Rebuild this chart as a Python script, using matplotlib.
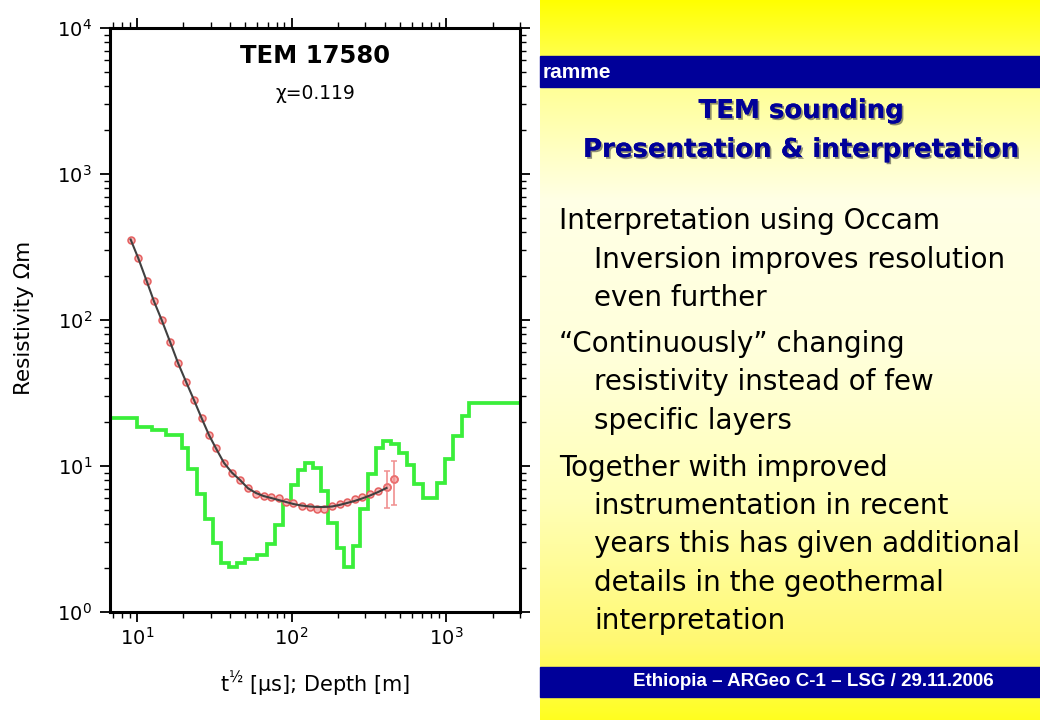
import numpy as np
import matplotlib
matplotlib.use("Agg")
import matplotlib.pyplot as plt
from matplotlib import patheffects as pe
from matplotlib.patches import Rectangle
from matplotlib.ticker import LogLocator, NullFormatter

plt.rcParams["font.family"] = ["DejaVu Sans"]
plt.rcParams["mathtext.default"] = "regular"

# ---------------- data ----------------
sqrt_time = [9.10, 10.20, 11.55, 12.88, 14.45, 16.36, 18.43, 20.76, 23.38, 26.23,
             29.24, 32.46, 36.57, 41.19, 46.42, 52.28, 58.9, 65.9, 73.7, 82.4,
             92.1, 103.0, 116.1, 130.8, 146.2, 162.3, 182.9, 204.5, 228.7, 255.7,
             286.0, 322.2, 362.9, 412.0, 460.7]
rho_observed = [355.9, 264.6, 185.0, 134.3, 100.0, 71.0, 50.8, 37.8, 28.3, 21.2,
                16.3, 13.2, 10.5, 9.00, 8.02, 7.04, 6.48, 6.23, 6.13, 5.99,
                5.69, 5.54, 5.36, 5.20, 5.04, 5.04, 5.32, 5.49, 5.71, 5.90,
                6.13, 6.38, 6.74, 7.21, 8.11]
rho_response = [355.9, 264.6, 185.0, 134.3, 100.0, 71.0, 50.8, 37.8, 28.3, 21.2,
                16.3, 13.2, 10.5, 9.00, 8.02, 7.04, 6.53, 6.23, 6.04, 5.85,
                5.67, 5.49, 5.36, 5.28, 5.24, 5.24, 5.28, 5.41, 5.58, 5.76,
                5.99, 6.28, 6.63, 7.07]
errbar_time = [412.0, 460.7]
errbar_rho = [7.21, 8.11]
errbar_lower = [5.13, 5.41]
errbar_upper = [9.26, 10.82]

layer_boundaries = [10.0, 12.51, 15.41, 19.56, 21.39, 24.45, 27.55, 31.04, 34.97, 39.40,
                    44.39, 50.0, 59.8, 69.4, 78.2, 88.1, 99.3, 110.2, 122.3, 137.8,
                    155.2, 172.3, 197.0, 218.7, 250.1, 277.5, 312.6, 352.3, 391.0, 440.6,
                    496.4, 559.2, 620.8, 709.9, 874.6, 985.1, 1110, 1269, 1409]
layer_rho = [21.3, 18.5, 17.6, 16.3, 13.3, 9.54, 6.43, 4.34, 2.97, 2.17,
             2.03, 2.17, 2.31, 2.46, 2.92, 3.94, 5.58, 7.41, 9.39, 10.5,
             9.69, 6.74, 4.07, 2.74, 2.03, 2.83, 5.08, 8.81, 13.3, 14.8,
             14.1, 12.3, 10.2, 7.53, 6.04, 7.65, 11.2, 16.1, 22.0, 27.0]

chart_title = "TEM 17580"
chi_text = "χ=0.119"
x_label = "t$^{½}$ [µs]; Depth [m]"
y_label = "Resistivity Ωm"

bar_text = "ramme"
slide_title = ["TEM sounding", "Presentation & interpretation"]
bullets = [
    ["Interpretation using Occam", "Inversion improves resolution", "even further"],
    ["“Continuously” changing", "resistivity instead of few", "specific layers"],
    ["Together with improved", "instrumentation in recent",
     "years this has given additional", "details in the geothermal", "interpretation"],
]
footer_text = "Ethiopia – ARGeo C-1 – LSG / 29.11.2006"

# ---------------- figure ----------------
W, H = 1040, 720
fig = plt.figure(figsize=(W / 100, H / 100), dpi=100, facecolor="white")

def fx(px):
    return px / W

def fy(py):
    return 1 - py / H

# slide background gradient (right part)
bg = fig.add_axes([fx(540), 0, fx(500), 1], zorder=0)
stops_y = [0, 56, 90, 200, 350, 500, 640, 720]
stops_b = [0.0, 0.30, 0.60, 0.90, 0.86, 0.72, 0.45, 0.12]
stops_g = [1.0, 1.0, 1.0, 1.0, 1.0, 1.0, 0.975, 1.0]
yy = np.arange(H)
grad = np.zeros((H, 1, 3))
grad[:, 0, 0] = 1.0
grad[:, 0, 1] = np.interp(yy, stops_y, stops_g)
grad[:, 0, 2] = np.interp(yy, stops_y, stops_b)
bg.imshow(grad, aspect="auto", extent=[0, 1, 1, 0], interpolation="bilinear")
bg.set_xlim(0, 1)
bg.set_ylim(1, 0)
bg.axis("off")

navy = "#000099"
fig.patches.append(Rectangle((fx(540), fy(87)), fx(500), (87 - 56) / H,
                             transform=fig.transFigure, color=navy, zorder=1))
fig.patches.append(Rectangle((fx(540), fy(697)), fx(500), (697 - 667) / H,
                             transform=fig.transFigure, color=navy, zorder=1))

fig.text(fx(543), fy(72), bar_text, color="white", fontsize=15, fontweight="bold",
         family="Liberation Sans", ha="left", va="center", zorder=3)
fig.text(fx(813), fy(682), footer_text, color="white", fontsize=13.5, fontweight="bold",
         family="Liberation Sans", ha="center", va="center", zorder=3)

shadow = [pe.withSimplePatchShadow(offset=(1.3, -1.3), shadow_rgbFace="#333333", alpha=0.55),
          pe.Normal()]
for txt, base in zip(slide_title, [118, 157]):
    fig.text(fx(801), fy(base), txt, color=navy, fontsize=18.7, fontweight="bold",
             ha="center", va="baseline", zorder=3, path_effects=shadow)

baselines = [[229, 268, 306], [352, 390, 429], [476, 514, 552, 591, 629]]
for para, bls in zip(bullets, baselines):
    for i, (line, b) in enumerate(zip(para, bls)):
        fig.text(fx(559 if i == 0 else 594), fy(b), line, color="black", fontsize=20,
                 ha="left", va="baseline", zorder=3)

# ---------------- chart ----------------
ax = fig.add_axes([fx(110), fy(612), fx(410), (612 - 28) / H], zorder=2)
ax.set_xscale("log")
ax.set_yscale("log")
ax.set_xlim(6.69, 3010)
ax.set_ylim(1, 1e4)

edges = [1.0] + layer_boundaries + [1e5]
ax.stairs(layer_rho, edges, baseline=None, color="#3aee3a", linewidth=2.7, zorder=2)
ax.plot(sqrt_time, rho_observed, linestyle="none", marker="o", ms=5,
        mfc="#f7b5b5", mec="#e56060", mew=1.1, zorder=3)
ax.errorbar(errbar_time, errbar_rho,
            yerr=[np.subtract(errbar_rho, errbar_lower), np.subtract(errbar_upper, errbar_rho)],
            fmt="o", ms=5, mfc="none", mec="#ea7070", mew=1.1,
            ecolor="#f09090", elinewidth=1.2, capsize=2.5, capthick=1.0, zorder=3)
ax.plot(sqrt_time[:len(rho_response)], rho_response, color="#404040", linewidth=1.5, zorder=4)

for s in ax.spines.values():
    s.set_linewidth(2.2)
ax.xaxis.set_major_locator(LogLocator(base=10, numticks=10))
ax.xaxis.set_minor_locator(LogLocator(base=10, subs=np.arange(2, 10), numticks=20))
ax.yaxis.set_major_locator(LogLocator(base=10, numticks=10))
ax.yaxis.set_minor_locator(LogLocator(base=10, subs=np.arange(2, 10), numticks=20))
ax.xaxis.set_minor_formatter(NullFormatter())
ax.yaxis.set_minor_formatter(NullFormatter())
ax.tick_params(which="both", direction="out", top=True, right=True, colors="black")
ax.tick_params(which="major", length=7, width=1.3, labelsize=14)
ax.tick_params(which="minor", length=4, width=1.0)
ax.tick_params(axis="y", which="major", pad=6)
ax.tick_params(axis="x", which="major", pad=4)

ax.text(0.5, 0.952, chart_title, transform=ax.transAxes, ha="center", va="center",
        fontsize=17.5, fontweight="bold")
ax.text(0.502, 0.887, chi_text, transform=ax.transAxes, ha="center", va="center",
        fontsize=13.5)

fig.text(fx(315), fy(684), x_label, ha="center", va="center", fontsize=15)
fig.text(fx(24), fy(318), y_label, ha="center", va="center", fontsize=15.5, rotation=90)

fig.savefig("out.png", dpi=100, facecolor="white")
